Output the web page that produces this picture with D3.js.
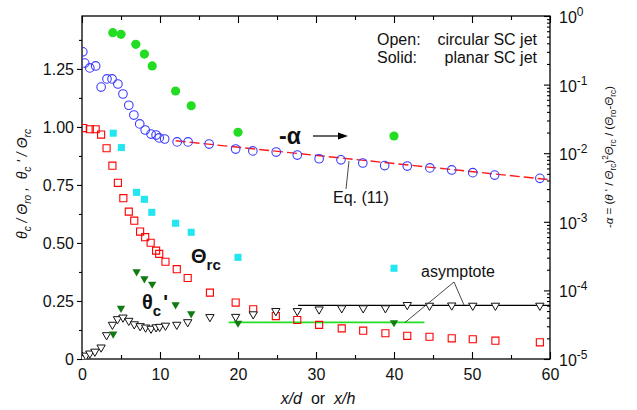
<!DOCTYPE html>
<html>
<head>
<meta charset="utf-8">
<script src="https://cdn.jsdelivr.net/npm/d3@7"></script>
<style>
  body { margin: 0; background: #fff; }
  svg { display: block; font-family: "Liberation Sans", Arial, sans-serif; }
</style>
</head>
<body>
<svg id="chart" width="637" height="410"></svg>
<script>
// circular jet, -alpha (right log axis)
const circAlphaX = [0.1, 0.35, 1.0, 1.75, 2.45, 3.2, 3.85, 4.6, 5.25, 6.0, 6.65, 7.4, 8.1, 8.85, 9.5, 9.9, 10.6, 12.2, 13.6, 16.3, 19.7, 21.9, 24.9, 27.6, 30.4, 33.2, 36.0, 38.8, 41.7, 44.6, 47.4, 50.1, 52.9, 58.7];
const circAlphaY = [0.30, 0.206, 0.175, 0.187, 0.092, 0.121, 0.121, 0.102, 0.073, 0.050, 0.036, 0.0267, 0.0218, 0.019, 0.0184, 0.0167, 0.0161, 0.0146, 0.0146, 0.0136, 0.0115, 0.0108, 0.0104, 0.0094, 0.0083, 0.0080, 0.0072, 0.0066, 0.0065, 0.0061, 0.0057, 0.0052, 0.0048, 0.0043];
// planar jet, -alpha
const planAlphaX = [3.95, 5.0, 6.9, 8.0, 9.0, 12.0, 14.0, 20.0, 40.0];
const planAlphaY = [0.571, 0.541, 0.387, 0.279, 0.187, 0.0807, 0.0492, 0.0202, 0.0178];
// Eq. (11) fit
const eqX = [12, 60];
const eqY = [0.0152, 0.0041];
// circular jet, Theta_rc
const circThetaX = [0.15, 1.0, 1.75, 2.45, 3.15, 3.9, 4.6, 5.3, 6.0, 6.7, 7.45, 8.1, 8.8, 9.5, 9.9, 10.7, 12.15, 13.55, 16.4, 19.7, 21.95, 24.85, 27.6, 30.4, 33.3, 36.05, 38.9, 41.7, 44.55, 47.4, 50.1, 53.0, 58.7];
const circThetaY = [0.995, 0.99, 0.99, 0.967, 0.908, 0.833, 0.759, 0.693, 0.635, 0.596, 0.549, 0.525, 0.501, 0.467, 0.453, 0.419, 0.387, 0.349, 0.286, 0.243, 0.214, 0.185, 0.168, 0.147, 0.132, 0.122, 0.111, 0.100, 0.096, 0.089, 0.085, 0.079, 0.072];
// planar jet, Theta_rc
const planThetaX = [4.0, 5.05, 7.0, 8.0, 8.95, 12.0, 14.0, 20.0, 40.0];
const planThetaY = [0.973, 0.911, 0.718, 0.688, 0.632, 0.585, 0.546, 0.438, 0.391];
// circular jet, theta_c'
const circFluctX = [0.1, 0.5, 1.0, 1.65, 2.45, 3.15, 3.9, 4.55, 5.25, 6.0, 6.7, 7.45, 8.15, 8.85, 9.5, 9.95, 10.7, 12.15, 13.55, 16.4, 19.7, 21.95, 24.85, 27.6, 30.4, 33.3, 36.05, 38.9, 41.7, 44.55, 47.4, 50.1, 53.0, 58.7];
const circFluctY = [0.004, 0.015, 0.024, 0.032, 0.050, 0.103, 0.148, 0.172, 0.179, 0.165, 0.150, 0.142, 0.136, 0.131, 0.137, 0.139, 0.144, 0.148, 0.159, 0.181, 0.182, 0.193, 0.207, 0.207, 0.214, 0.219, 0.219, 0.219, 0.233, 0.230, 0.231, 0.230, 0.230, 0.230];
// planar jet, theta_c'
const planFluctX = [4.0, 5.0, 7.0, 8.0, 9.0, 12.0, 14.0, 20.0, 40.0];
const planFluctY = [0.108, 0.219, 0.376, 0.346, 0.323, 0.234, 0.195, 0.155, 0.157];
// asymptotes [xStart, xEnd, value]
const asymCirc = [27.7, 60, 0.231];
const asymPlan = [18.8, 43.9, 0.158];

const xTicks = [0, 10, 20, 30, 40, 50, 60];
const xMinor = [5, 15, 25, 35, 45, 55];
const yTicks = [0, 0.25, 0.5, 0.75, 1.0, 1.25];
const yMinor = [0.125, 0.375, 0.625, 0.875, 1.125, 1.375];
const rTicks = [1e-5, 1e-4, 1e-3, 1e-2, 1e-1, 1];
const rExp = ["-5", "-4", "-3", "-2", "-1", "0"];

const svg = d3.select("#chart");
const plotL = 82, plotR = 550, plotT = 16, plotB = 359;

const x = d3.scaleLinear().domain([0, 60]).range([plotL, plotR]);
const y = d3.scaleLinear().domain([0, 1.478]).range([plotB, plotT]);
const yr = d3.scaleLog().domain([1e-5, 1]).range([plotB, plotT]);

const zip = (a, b) => a.map((v, i) => [v, b[i]]);

svg.append("defs").append("clipPath").attr("id", "plot-clip")
  .append("rect").attr("x", plotL).attr("y", plotT)
  .attr("width", plotR - plotL).attr("height", plotB - plotT);

// axes
function clean(g) {
  g.select(".domain").remove();
  g.selectAll(".tick line").attr("stroke", "#000").attr("stroke-width", 1.1);
  g.selectAll("text").attr("fill", "#111").attr("font-size", 16)
    .attr("font-family", "Liberation Sans, Arial, sans-serif");
}

svg.append("g").attr("transform", `translate(0,${plotB})`)
  .call(d3.axisBottom(x).tickValues(xTicks).tickSizeInner(-7).tickSizeOuter(0).tickPadding(10).tickFormat(d3.format("d")))
  .call(clean);
svg.append("g").attr("transform", `translate(0,${plotB})`)
  .call(d3.axisBottom(x).tickValues(xMinor).tickSize(-4).tickFormat(""))
  .call(clean);
svg.append("g").attr("transform", `translate(0,${plotT})`)
  .call(d3.axisTop(x).tickValues(xTicks).tickSize(-7).tickFormat(""))
  .call(clean);
svg.append("g").attr("transform", `translate(0,${plotT})`)
  .call(d3.axisTop(x).tickValues(xMinor).tickSize(-4).tickFormat(""))
  .call(clean);

svg.append("g").attr("transform", `translate(${plotL},0)`)
  .call(d3.axisLeft(y).tickValues(yTicks).tickSize(5).tickPadding(3)
    .tickFormat((d) => (d === 0 ? "0" : d3.format(".2f")(d))))
  .call(clean);
svg.append("g").attr("transform", `translate(${plotL},0)`)
  .call(d3.axisLeft(y).tickValues(yMinor).tickSize(3).tickFormat(""))
  .call(clean);

const rMinor = [];
for (let e = -5; e < 0; e++) {
  for (let m = 2; m <= 9; m++) rMinor.push(m * Math.pow(10, e));
}
svg.append("g").attr("transform", `translate(${plotR},0)`)
  .call(d3.axisRight(yr).tickValues(rTicks).tickSize(-6).tickFormat(""))
  .call(clean);
svg.append("g").attr("transform", `translate(${plotR},0)`)
  .call(d3.axisRight(yr).tickValues(rMinor).tickSize(-3).tickFormat(""))
  .call(clean);

const rLab = svg.append("g").attr("font-size", 16).attr("fill", "#111");
rTicks.forEach((d, i) => {
  const t = rLab.append("text").attr("x", plotR + 9).attr("y", yr(d) + 7);
  t.append("tspan").text("10");
  t.append("tspan").attr("dy", -7).attr("font-size", 12).text(rExp[i]);
});

// frame
svg.append("rect").attr("x", plotL).attr("y", plotT)
  .attr("width", plotR - plotL).attr("height", plotB - plotT)
  .attr("fill", "none").attr("stroke", "#000").attr("stroke-width", 1.3);

// data
const plot = svg.append("g").attr("clip-path", "url(#plot-clip)");

// asymptote lines
plot.append("line")
  .attr("x1", x(asymCirc[0])).attr("x2", x(asymCirc[1]))
  .attr("y1", y(asymCirc[2])).attr("y2", y(asymCirc[2]))
  .attr("stroke", "#000").attr("stroke-width", 1.3);
plot.append("line")
  .attr("x1", x(asymPlan[0])).attr("x2", x(asymPlan[1]))
  .attr("y1", y(asymPlan[2])).attr("y2", y(asymPlan[2]))
  .attr("stroke", "#22dd22").attr("stroke-width", 1.6);

// Eq. (11)
plot.append("path")
  .datum(zip(eqX, eqY))
  .attr("fill", "none").attr("stroke", "#ff1a1a").attr("stroke-width", 1.4)
  .attr("stroke-dasharray", "10,4")
  .attr("d", d3.line().x((d) => x(d[0])).y((d) => yr(d[1])));

const square = d3.symbol().type(d3.symbolSquare).size(50);
const tri = d3.symbol().type(d3.symbolTriangle).size(30);

plot.append("g").selectAll("path").data(zip(circThetaX, circThetaY)).join("path")
  .attr("transform", (d) => `translate(${x(d[0])},${y(d[1])})`)
  .attr("d", square).attr("fill", "none").attr("stroke", "#ff0000").attr("stroke-width", 1.1);

plot.append("g").selectAll("path").data(zip(planThetaX, planThetaY)).join("path")
  .attr("transform", (d) => `translate(${x(d[0])},${y(d[1])})`)
  .attr("d", square).attr("fill", "#22e6f0");

plot.append("g").selectAll("path").data(zip(circFluctX, circFluctY)).join("path")
  .attr("transform", (d) => `translate(${x(d[0])},${y(d[1])}) rotate(180)`)
  .attr("d", tri).attr("fill", "#fff").attr("stroke", "#111").attr("stroke-width", 1);

plot.append("g").selectAll("path").data(zip(planFluctX, planFluctY)).join("path")
  .attr("transform", (d) => `translate(${x(d[0])},${y(d[1])}) rotate(180)`)
  .attr("d", tri).attr("fill", "#127a12");

plot.append("g").selectAll("circle").data(zip(circAlphaX, circAlphaY)).join("circle")
  .attr("cx", (d) => x(d[0])).attr("cy", (d) => yr(d[1])).attr("r", 4.3)
  .attr("fill", "none").attr("stroke", "#3b3bff").attr("stroke-width", 1.1);

plot.append("g").selectAll("circle").data(zip(planAlphaX, planAlphaY)).join("circle")
  .attr("cx", (d) => x(d[0])).attr("cy", (d) => yr(d[1])).attr("r", 4.6)
  .attr("fill", "#22dd22");

// annotations
const ann = svg.append("g").attr("fill", "#111");
ann.append("text").attr("x", 377).attr("y", 45).attr("font-size", 16).text("Open:");
ann.append("text").attr("x", 537).attr("y", 45).attr("font-size", 16).attr("text-anchor", "end").text("circular SC jet");
ann.append("text").attr("x", 377).attr("y", 63).attr("font-size", 16).text("Solid:");
ann.append("text").attr("x", 537).attr("y", 63).attr("font-size", 16).attr("text-anchor", "end").text("planar SC jet");

ann.append("text").attr("x", 279).attr("y", 144).attr("font-size", 23).attr("font-weight", "bold").text("-α");
ann.append("line").attr("x1", 313).attr("x2", 340).attr("y1", 136).attr("y2", 136)
  .attr("stroke", "#000").attr("stroke-width", 1.2);
ann.append("path").attr("d", "M348,136 L338,132.5 L338,139.5 Z").attr("fill", "#000");

const th = ann.append("text").attr("x", 191).attr("y", 263).attr("font-size", 20).attr("font-weight", "bold");
th.append("tspan").text("Θ");
th.append("tspan").attr("dy", 7).attr("font-size", 15).text("rc");

const tc = ann.append("text").attr("x", 142).attr("y", 309).attr("font-size", 20).attr("font-weight", "bold");
tc.append("tspan").text("θ");
tc.append("tspan").attr("dy", 7).attr("font-size", 15).text("c");
tc.append("tspan").attr("dy", -7).attr("dx", 2).text("'");

ann.append("line").attr("x1", 346).attr("y1", 189).attr("x2", 349).attr("y2", 161)
  .attr("stroke", "#333").attr("stroke-width", 0.9);
ann.append("text").attr("x", 333).attr("y", 203).attr("font-size", 16).text("Eq. (11)");

ann.append("text").attr("x", 421).attr("y", 277).attr("font-size", 16).text("asymptote");
ann.append("path").attr("d", "M405,322.5 L454,282 L464,305")
  .attr("fill", "none").attr("stroke", "#333").attr("stroke-width", 0.9);

// axis titles
const xt = svg.append("text").attr("x", 318).attr("y", 404).attr("font-size", 16)
  .attr("text-anchor", "middle").attr("fill", "#111").attr("xml:space", "preserve");
xt.append("tspan").attr("font-style", "italic").text("x/d");
xt.append("tspan").text("  or  ");
xt.append("tspan").attr("font-style", "italic").text("x/h");

// parts: [text, kind] with kind n(ormal), i(talic), s(ubscript), p (superscript)
function richText(t, parts, fs) {
  let shift = 0;
  parts.forEach(([str, kind]) => {
    const target = kind === "s" ? 0.3 * fs : kind === "p" ? -0.4 * fs : 0;
    const span = t.append("tspan").text(str);
    if (target !== shift) span.attr("dy", target - shift);
    shift = target;
    if (kind === "s" || kind === "p") span.attr("font-size", 0.72 * fs);
    if (kind === "i") span.attr("font-style", "italic");
  });
}

const ylFs = 14;
const yl = svg.append("text").attr("transform", "translate(27,184) rotate(-90)")
  .attr("text-anchor", "middle").attr("font-size", ylFs)
  .attr("fill", "#111").attr("xml:space", "preserve");
richText(yl, [
  ["θ", "i"], ["c", "s"], [" / Θ", "i"], ["ro", "s"], [" ,  θ", "i"], ["c", "s"],
  [" ' / Θ", "i"], ["rc", "s"],
], ylFs);
yl.selectAll("tspan").attr("font-style", "italic");

const yrFs = 11.5;
const yrl = svg.append("text").attr("transform", "translate(613,157) rotate(-90)")
  .attr("text-anchor", "middle").attr("font-size", yrFs)
  .attr("fill", "#111").attr("xml:space", "preserve");
richText(yrl, [
  ["-", "n"], ["α", "i"], [" = (", "n"], ["θ", "i"], [" ' / ", "n"], ["Θ", "i"],
  ["rc", "s"], [")", "n"], ["2", "p"], ["Θ", "i"], ["rc", "s"], [" / (", "n"],
  ["Θ", "i"], ["ro", "s"], ["-", "n"], ["Θ", "i"], ["rc", "s"], [")", "n"],
], yrFs);
</script>
</body>
</html>
